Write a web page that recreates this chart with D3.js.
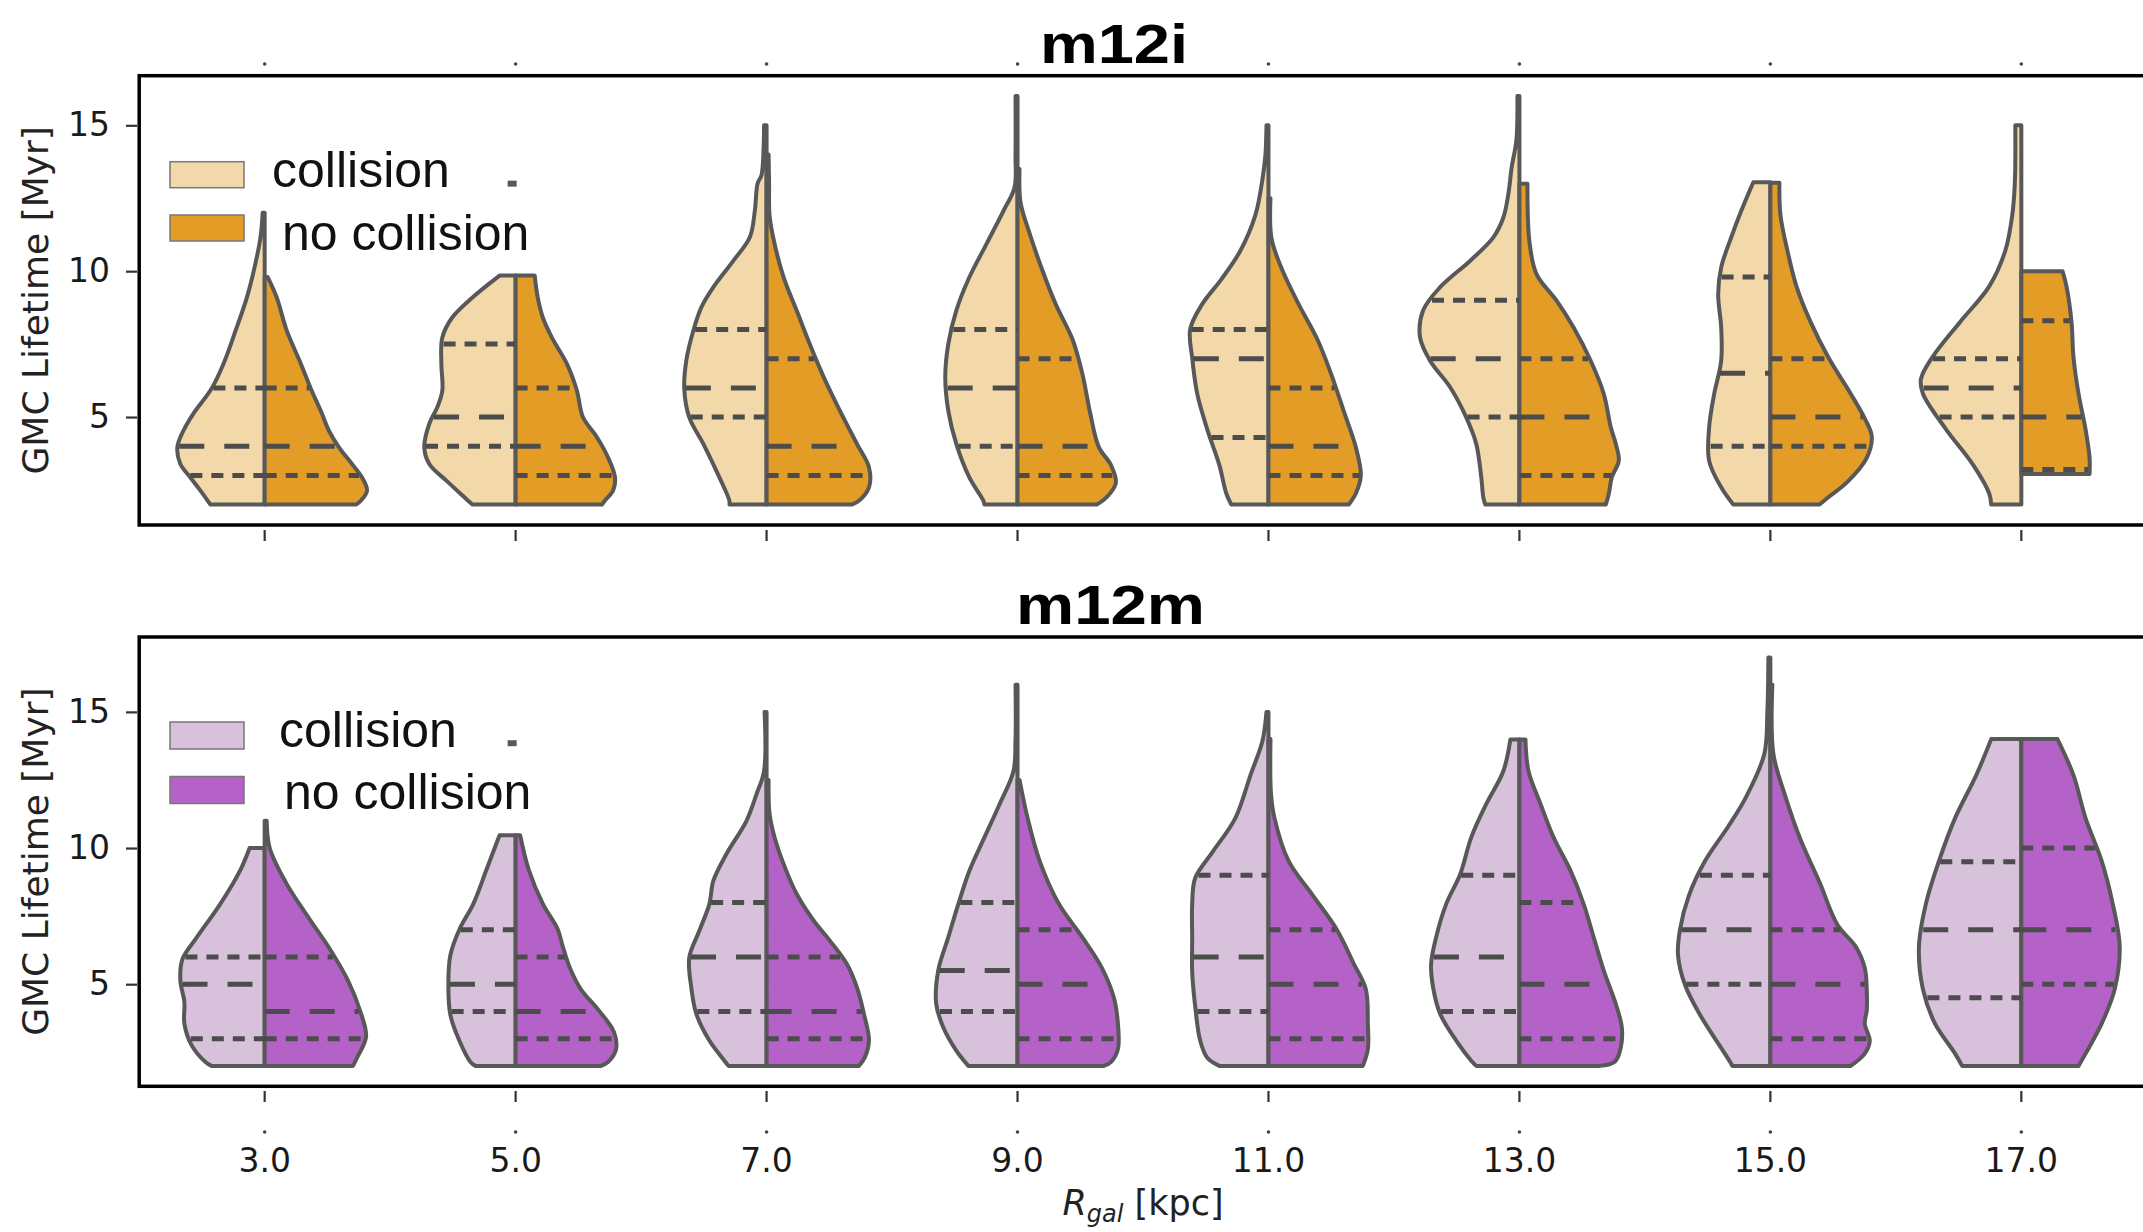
<!DOCTYPE html>
<html><head><meta charset="utf-8">
<script src="https://cdn.jsdelivr.net/npm/d3@7"></script>
<style>body{margin:0;background:#fff}</style>
</head><body>
<svg id="chart" width="2143" height="1232"></svg>
<script>
// ---------------- DATA ----------------
const categories = ['3.0','5.0','7.0','9.0','11.0','13.0','15.0','17.0'];
const yTickValues = [5, 10, 15];
const legendLabels = ['collision', 'no collision'];
const panelTitles = ['m12i', 'm12m'];

// density profiles: [lifetime (Myr), relative density (0-100)] from bottom to top
const m12iCollision = [
  [[2,54],[2.48,64],[2.93,74],[3.39,84],[3.96,87],[4.53,81],[5.12,71],[5.97,53],[6.83,41],[7.96,29],[9.1,17.7],[10.25,9.3],[11.2,4],[12,2]],
  [[2,43],[2.25,51],[2.82,69],[3.39,86],[3.96,91],[4.77,86],[5.34,78],[5.91,73],[6.83,74],[7.73,73],[8.42,63],[9.1,43],[9.85,16]],
  [[2,37],[2.13,37],[2.93,47],[4.08,63],[4.99,77],[5.96,82],[6.93,80],[7.96,73],[8.76,65],[9.45,53],[10.36,33],[11.16,16.7],[12.07,11.7],[13,9],[13.3,5],[14.2,3],[15,2.5]],
  [[2,33],[2.13,34],[2.93,48],[4.08,61],[5.22,69],[6.36,72],[7.5,69],[8.65,61],[9.79,48],[10.93,31],[12.07,14],[12.87,3],[14,2],[16,2]],
  [[2,37],[2.38,42],[3.36,49],[4.58,61],[5.8,71],[7.03,76],[8.01,78],[8.87,66],[9.72,47],[10.7,28],[11.93,13],[13.15,6],[14,3],[15,2]],
  [[2,34],[2.25,36],[2.93,38],[4.08,43],[4.99,53],[6.02,69],[6.93,89],[7.73,99],[8.65,96],[9.45,79],[10.36,49],[11.16,26],[11.84,16],[12.65,11],[13.56,7.7],[14.5,3],[16,2]],
  [[2,37],[2.59,49],[3.5,61],[4.65,61],[5.79,56],[6.93,49],[8.07,49],[9.22,52],[10.13,49],[11.16,39],[12.07,29],[13.05,17]],
  [[2,30],[2.38,32],[3.36,48],[4.58,75],[5.8,98],[6.3,100],[7.03,89],[8.26,61],[9.48,32],[10.7,16],[11.93,9],[13,6.5],[15,6]]
];
const m12iNoCollision = [
  [[2,91],[2.14,96],[2.48,102],[2.93,97],[3.39,87],[3.96,74],[4.53,64],[5.12,57],[5.97,46],[6.83,36],[7.96,22],[9.1,12],[9.8,3]],
  [[2,86],[2.14,89],[2.48,97],[2.93,99],[3.62,92],[4.31,81],[5.0,67],[5.91,61],[6.83,51],[7.73,36],[8.42,27],[9.1,22],[9.85,19]],
  [[2,85],[2.13,92],[2.59,102],[3.28,102],[4.08,90],[5.22,73],[6.36,57],[7.5,43],[8.65,30],[9.79,17],[10.93,8],[11.9,3],[13,2.5],[14,2]],
  [[2,79],[2.26,89],[2.75,98],[3.36,93],[3.97,81],[5.2,72],[6.42,65],[7.64,55],[8.87,38],[10.1,24],[11.3,12],[12.36,3],[13.5,2]],
  [[2,80],[2.38,87],[3.0,92],[3.97,87],[5.2,75],[6.42,63],[7.64,49],[8.87,30],[10.1,13],[11.13,3],[12.5,2]],
  [[2,86],[2.36,89],[2.93,92],[3.5,99],[4.08,96],[4.65,91],[5.8,84],[6.93,71],[8.07,54],[8.99,37],[9.9,17],[11,10],[13,8]],
  [[2,49],[2.26,58],[2.75,76],[3.6,96],[4.34,101],[4.95,94],[5.8,80],[7.03,58],[8.26,40],[9.48,26],[10.7,17],[11.93,10],[13.03,9]],
  [[3.05,68],[3.6,68],[4.58,64],[5.8,57],[7.03,52],[8.26,50],[9.48,45],[10,41]]
];
// quartiles [Q1, median, Q3]
const m12iCollisionQuartiles = [[3,4,6],[4,5,7.5],[5,6,8],[4,6,8],[4.3,7,8],[5,7,9],[4,6.5,9.8],[5,6,7]];
const m12iNoCollisionQuartiles = [[3,4,6],[3,4,6],[3,4,7],[3,4,7],[3,4,6],[3,5,7],[4,5,7],[3.2,5,8.3]];

const m12mCollision = [
  [[2,53],[2.14,59],[2.77,73],[3.55,80],[4.34,80],[5.13,84],[5.91,82],[6.7,68],[7.96,44],[9.21,24],[10,15]],
  [[2,40],[2.14,45],[2.92,56],[3.87,65],[4.97,67],[6.07,65],[7.01,56],[7.96,42],[9.21,29],[10.47,16]],
  [[2,38],[2.19,42],[2.93,57],[3.91,70],[4.88,75],[5.98,77],[6.96,67],[7.94,57],[8.8,53],[9.78,40],[11,20],[11.98,10],[12.83,2.5],[15,2]],
  [[2,49],[2.56,61],[3.42,74],[4.27,81],[5.5,79],[6.72,69],[7.94,59],[9.16,48],[10.39,33],[11.6,18],[12.83,4],[14,2],[16,2]],
  [[2,49],[2.3,61],[2.92,68],[4.18,73],[5.44,76],[6.7,76],[7.96,76],[8.9,73],[9.84,56],[11.1,33],[12.67,18],[13.93,6],[15,2]],
  [[2,43],[2.19,48],[2.93,63],[3.91,79],[4.88,86],[5.74,88],[6.72,83],[7.94,73],[9.04,59],[10.39,48],[11.62,33],[12.83,16],[13.99,9]],
  [[2,38],[2.14,40],[2.77,51],[3.87,70],[4.97,85],[6.07,92],[7.01,90],[8.27,81],[9.53,65],[10.79,42],[11.89,24],[13.46,6],[15,3],[17,2]],
  [[2,59],[2.45,66],[3.55,86],[4.81,98],[6.38,102],[7.96,95],[9.53,82],[11.1,66],[12.67,45],[14,30]]
];
const m12mNoCollision = [
  [[2,88],[2.3,92],[3.08,101],[4.03,95],[5.13,83],[6.23,66],[7.48,43],[8.74,21],[10,5],[11,2]],
  [[2,85],[2.14,92],[2.61,100],[3.24,98],[4.03,83],[4.81,65],[5.6,54],[6.38,47],[7.01,42],[7.96,27],[9.21,13],[10.47,4.5]],
  [[2,92],[2.32,98],[2.93,102],[3.91,97],[4.88,90],[5.74,80],[6.6,63],[7.33,47],[8.31,30],[9.41,17],[10.39,8],[11.25,3],[12.5,2]],
  [[2,86],[2.14,93],[2.61,100],[3.55,100],[4.5,96],[5.6,84],[6.7,65],[7.96,41],[9.53,22],[11.1,10],[12.5,2]],
  [[2,94],[2.61,99],[3.55,99],[4.81,97],[5.75,85],[7.01,68],[8.27,44],[9.53,20],[11.1,6],[12,2.5],[14,2]],
  [[2,80],[2.15,95],[2.68,101],[3.42,102],[4.27,96],[5.5,84],[6.72,74],[7.94,64],[9.16,51],[10.39,34],[11.62,21],[12.83,9],[13.99,6]],
  [[2,80],[2.45,94],[2.92,99],[3.55,94],[4.03,96],[4.81,96],[5.6,94],[6.38,85],[7.17,67],[8.74,49],[10.31,30],[11.89,15],[13.46,3],[16,2]],
  [[2,57],[2.45,64],[3.55,80],[4.81,93],[6.38,98],[7.96,91],[9.53,80],[11.1,64],[12.67,52],[14,36]]
];
const m12mCollisionQuartiles = [[3,5,6],[4,5,7],[4,6,8],[4,5.5,8],[4,6,9],[4,6,9],[5,7,9],[4.5,7,9.5]];
const m12mNoCollisionQuartiles = [[3,4,6],[3,4,6],[3,4,6],[3,5,7],[3,5,7],[3,5,8],[3,5,7],[5,7,10]];

// small leftover marks in the figure (category, value)
const m12iStray = [['5.0', 13]];
const m12mStray = [['5.0', 13.85]];

// ---------------- LAYOUT / STYLE ----------------
const svg = d3.select('#chart');
svg.append('rect').attr('width', 2143).attr('height', 1232).attr('fill', '#fff');

const x = d3.scaleBand().domain(categories).range([139.2, 2146.8]);
const cxOf = c => x(c) + x.bandwidth() / 2;
const w = d3.scaleLinear().domain([0, 100]).range([0, x.bandwidth() * 0.4]);

const OUTLINE = '#585858';
const QLINE = '#4c4c4c';
const tickFont = '"DejaVu Sans", sans-serif';
const legendFont = '"Liberation Sans", Arial, sans-serif';

const panels = [
  { title: panelTitles[0], top: 75.7, bottom: 525, series: [m12iCollision, m12iNoCollision],
    quart: [m12iCollisionQuartiles, m12iNoCollisionQuartiles], colors: ['#f3d9aa', '#e39c26'],
    stray: m12iStray, titleX: 1114, titleY: 62.5, titleLen: 148,
    legend: { px: 170, py: [161.7, 215], ph: 26, tx: [272, 282], ty: [187.3, 250] },
    tickY: 530, dotY: 64, labels: false },
  { title: panelTitles[1], top: 637, bottom: 1086.3, series: [m12mCollision, m12mNoCollision],
    quart: [m12mCollisionQuartiles, m12mNoCollisionQuartiles], colors: ['#d7c1db', '#b462c7'],
    stray: m12mStray, titleX: 1110.5, titleY: 624, titleLen: 189,
    legend: { px: 170, py: [722, 776.5], ph: 27, tx: [279, 284], ty: [746.5, 808.6] },
    tickY: 1091, dotY: 1132, labels: true }
];

function hwAt(prof, v) {
  if (v <= prof[0][0]) return prof[0][1];
  for (let i = 1; i < prof.length; i++) {
    if (v <= prof[i][0]) {
      const a = prof[i - 1], b = prof[i];
      const t = (v - a[0]) / (b[0] - a[0]);
      return a[1] + t * (b[1] - a[1]);
    }
  }
  return prof[prof.length - 1][1];
}

panels.forEach(p => {
  const allVals = p.series.flat().flatMap(prof => prof.map(d => d[0]));
  const [lo, hi] = d3.extent(allVals);
  const span = hi - lo;
  const y = d3.scaleLinear().domain([lo - 0.05 * span, hi + 0.05 * span]).range([p.bottom, p.top]);
  const g = svg.append('g');

  // violins
  categories.forEach((c, i) => {
    const cx = cxOf(c);
    [0, 1].forEach(side => {
      const prof = p.series[side][i];
      const sign = side === 0 ? -1 : 1;
      const area = d3.area().curve(d3.curveCatmullRom.alpha(0.5))
        .y(d => y(d[0])).x0(cx).x1(d => cx + sign * w(d[1]));
      g.append('path').attr('d', area(prof))
        .attr('fill', p.colors[side]).attr('stroke', OUTLINE)
        .attr('stroke-width', 4).attr('stroke-linejoin', 'round');
    });
  });
  // quartile lines
  categories.forEach((c, i) => {
    const cx = cxOf(c);
    [0, 1].forEach(side => {
      const prof = p.series[side][i];
      p.quart[side][i].forEach((q, k) => {
        const hw = w(hwAt(prof, q)) - 1.5;
        const x1 = side === 0 ? cx - hw : cx;
        const x2 = side === 0 ? cx : cx + hw;
        g.append('line').attr('x1', x1).attr('x2', x2).attr('y1', y(q)).attr('y2', y(q))
          .attr('stroke', QLINE).attr('stroke-width', 5)
          .attr('stroke-dasharray', k === 1 ? '25,20' : '12,9');
      });
    });
  });
  // stray marks
  p.stray.forEach(([c, v]) => {
    g.append('rect').attr('x', cxOf(c) - 8).attr('y', y(v) - 3).attr('width', 9).attr('height', 6)
      .attr('fill', OUTLINE);
  });

  // frame
  g.append('rect').attr('x', 139.2).attr('y', p.top).attr('width', 2146.8 - 139.2)
    .attr('height', p.bottom - p.top).attr('fill', 'none').attr('stroke', '#000').attr('stroke-width', 3.5);

  // y axis
  const yAxis = d3.axisLeft(y).tickValues(yTickValues).tickSize(11).tickPadding(16).tickFormat(d3.format('d'));
  const ya = g.append('g').attr('transform', 'translate(137,0)').call(yAxis);
  ya.select('.domain').remove();
  ya.selectAll('line').attr('stroke', '#333').attr('stroke-width', 2.2);
  ya.selectAll('text').attr('font-family', tickFont).attr('font-size', 33).attr('fill', '#1a1a1a');

  // x axis
  const xAxis = d3.axisBottom(x).tickSize(11).tickPadding(47)
    .tickFormat(p.labels ? (d => d) : (() => ''));
  const xa = g.append('g').attr('transform', `translate(0,${p.tickY})`).call(xAxis);
  xa.select('.domain').remove();
  xa.selectAll('line').attr('stroke', '#333').attr('stroke-width', 2.2);
  xa.selectAll('text').attr('font-family', tickFont).attr('font-size', 33).attr('fill', '#1a1a1a');

  // tiny dots
  categories.forEach(c => {
    g.append('circle').attr('cx', cxOf(c)).attr('cy', p.dotY).attr('r', 1.8).attr('fill', '#444');
  });

  // y label
  g.append('text').attr('transform', `translate(48,${(p.top + p.bottom) / 2}) rotate(-90)`)
    .attr('text-anchor', 'middle').attr('font-family', tickFont).attr('font-size', 36)
    .attr('fill', '#222').text('GMC Lifetime [Myr]');

  // title
  svg.append('text').attr('x', p.titleX).attr('y', p.titleY).attr('text-anchor', 'middle')
    .attr('font-family', legendFont).attr('font-weight', 'bold').attr('font-size', 55)
    .attr('textLength', p.titleLen).attr('lengthAdjust', 'spacingAndGlyphs')
    .attr('fill', '#000').text(p.title);

  // legend
  [0, 1].forEach(k => {
    g.append('rect').attr('x', p.legend.px).attr('y', p.legend.py[k]).attr('width', 74)
      .attr('height', p.legend.ph).attr('fill', p.colors[k]).attr('stroke', '#777').attr('stroke-width', 1.5);
    g.append('text').attr('x', p.legend.tx[k]).attr('y', p.legend.ty[k])
      .attr('font-family', legendFont).attr('font-size', 50).attr('fill', '#111').text(legendLabels[k]);
  });
});

// x label
const xl = svg.append('text').attr('x', 1143).attr('y', 1215).attr('text-anchor', 'middle')
  .attr('font-family', tickFont).attr('font-size', 35).attr('fill', '#222');
xl.append('tspan').attr('font-style', 'italic').text('R');
xl.append('tspan').attr('font-style', 'italic').attr('font-size', 24).attr('dy', 7).text('gal');
xl.append('tspan').attr('dy', -7).text(' [kpc]');
</script>
</body></html>
